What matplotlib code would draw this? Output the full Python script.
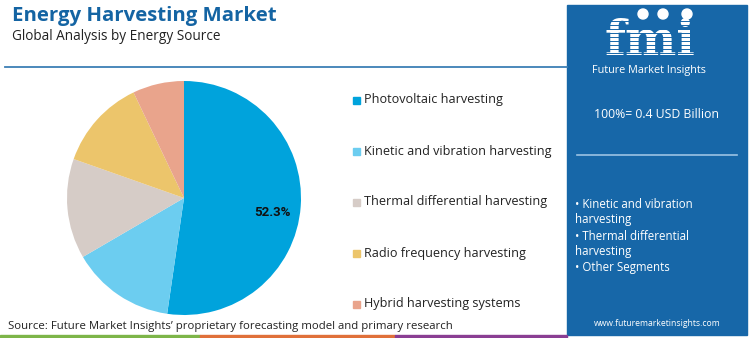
import matplotlib
matplotlib.use("Agg")
import matplotlib.pyplot as plt
from matplotlib.patches import Rectangle, Circle

categories = ["Photovoltaic harvesting", "Kinetic and vibration harvesting",
              "Thermal differential harvesting", "Radio frequency harvesting",
              "Hybrid harvesting systems"]
shares = [52.3, 14.3, 13.8, 12.5, 7.1]
colors = ["#00A3DC", "#6CCDF0", "#D6CCC7", "#ECC56B", "#E9A48C"]
bullets = ["• Kinetic and vibration", "harvesting", "• Thermal differential",
           "harvesting", "• Other Segments"]

W, H = 750, 338
fig = plt.figure(figsize=(7.5, 3.38), dpi=100)
fig.patch.set_facecolor("white")
FONT = "Open Sans"

def fx(x): return x / W
def fy(y): return 1 - y / H

bg = fig.add_axes([0, 0, 1, 1])
bg.set_xlim(0, W); bg.set_ylim(H, 0); bg.axis("off")

# title
bg.text(12, 16, "Energy Harvesting Market", fontsize=14.7, fontweight="bold",
        color="#1464A3", family=FONT, va="center", ha="left")
bg.text(12, 37, "Global Analysis by Energy Source", fontsize=9.8,
        color="#222222", family=FONT, va="center", ha="left")
bg.plot([5, 567], [67, 67], color="#3D7FB5", lw=1.3)

# right panel
panel = "#1767A8"
bg.add_patch(Rectangle((567, 5), 180, 330, color=panel, zorder=1))
bg.text(650, 55, "fmi", fontsize=35, fontweight="bold", family="DejaVu Serif",
        color="white", ha="center", va="baseline", zorder=2)
for yy in range(21, 56, 4):
    bg.plot([592, 712], [yy, yy], color=panel, lw=0.7, zorder=3)
for xc in (643, 663, 687):
    bg.add_patch(Circle((xc, 14), 5, color="white", zorder=4))
bg.text(649, 70, "Future Market Insights", fontsize=7.8, color="white",
        family=FONT, ha="center", va="center", zorder=4)
bg.text(657, 114, "100%= 0.4 USD Billion", fontsize=8.8, color="white",
        family=FONT, ha="center", va="center", zorder=4)
bg.plot([577, 737], [155, 155], color="#9CC3E3", lw=1.2, zorder=4)
for i, t in enumerate(bullets):
    bg.text(575, 204 + i * 16, t, fontsize=8.3, color="white", family=FONT,
            ha="left", va="center", zorder=4)
bg.text(657, 323, "www.futuremarketinsights.com", fontsize=6.2, color="white",
        family=FONT, ha="center", va="center", zorder=4)

# source
bg.text(8, 326, "Source: Future Market Insights’ proprietary forecasting model and primary research",
        fontsize=8.2, color="#222222", family=FONT, ha="left", va="center")

# bottom strip
for x0, w, c in [(0, 200, "#7DB549"), (200, 195, "#E0703A"), (395, 172, "#8A3E93")]:
    bg.add_patch(Rectangle((x0, 335), w, 3, color=c))

# pie
cx, cy, R = 184, 198, 120
pax = fig.add_axes([fx(cx - R), fy(cy + R), 2 * R / W, 2 * R / H])
pax.pie(shares, colors=colors, startangle=90, counterclock=False, radius=117 / 120,
        wedgeprops=dict(linewidth=0))
pax.set_xlim(-1, 1); pax.set_ylim(-1, 1)
pax.set_aspect("auto")
pax.axis("off")
pax.text(0.74, -0.125, f"{shares[0]}%", fontsize=9.5, fontweight="bold",
         family="Roboto", ha="center", va="center", color="#111111")

# legend
for i, (lab, c) in enumerate(zip(categories, colors)):
    y = 100 + i * 51
    bg.add_patch(Rectangle((353, y - 3.5), 7, 7, color=c))
    bg.text(364, y, lab, fontsize=9.1, color="#222222", family=FONT,
            ha="left", va="center")

fig.savefig("out.png", dpi=100)
